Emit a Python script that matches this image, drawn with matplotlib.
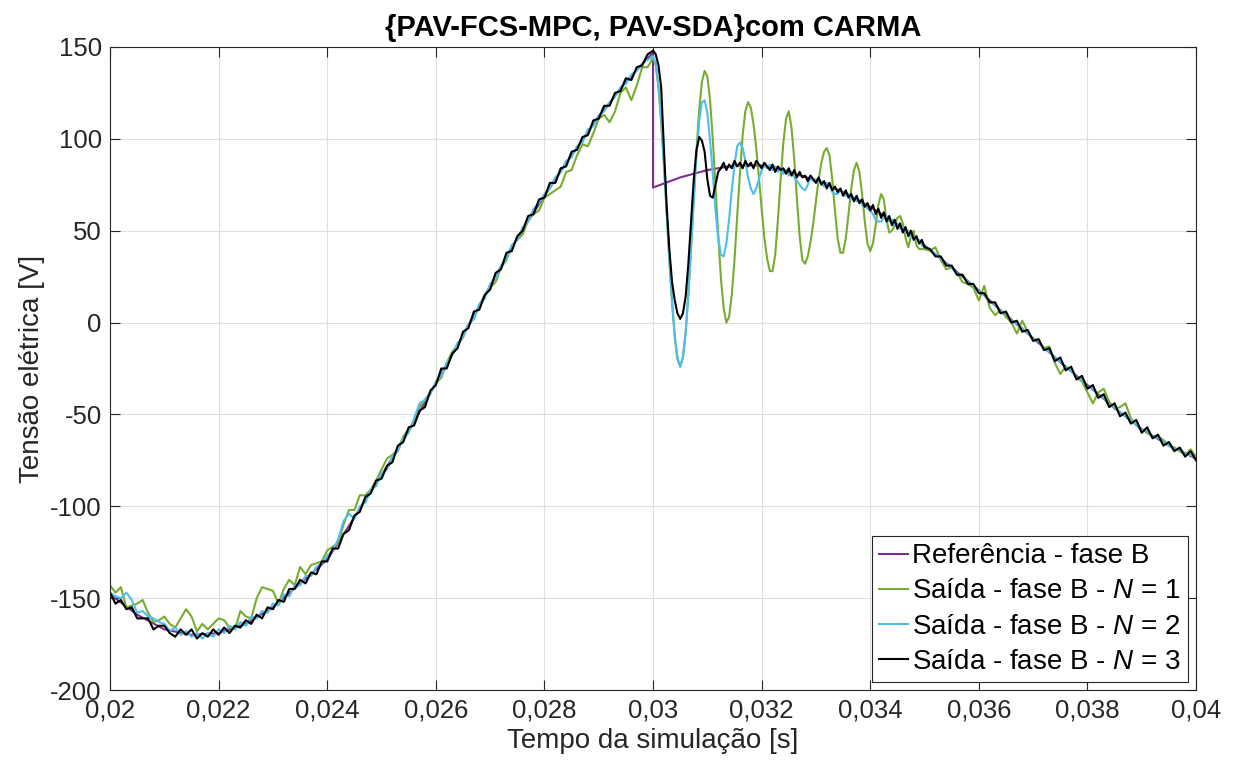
import numpy as np
import matplotlib.pyplot as plt
from matplotlib.ticker import FuncFormatter

plt.rcParams["font.family"] = ["Liberation Sans", "DejaVu Sans"]
plt.rcParams["mathtext.fontset"] = "custom"
plt.rcParams["mathtext.it"] = "Liberation Sans:italic"
plt.rcParams["mathtext.rm"] = "Liberation Sans"
plt.rcParams["axes.unicode_minus"] = False

# referencia (ms, V) - degrau em 30 ms
t_ref_ms = [20.0, 20.5, 21.0, 21.5, 22.0, 22.5, 23.0, 23.5, 24.0, 24.5,
            25.0, 25.5, 26.0, 26.5, 27.0, 27.5, 28.0, 28.5, 29.0, 29.5,
            30.0, 30.0, 30.5, 31.0, 31.5, 32.0, 32.5, 33.0, 33.5, 34.0,
            34.5, 35.0, 35.5, 36.0, 36.5, 37.0, 37.5, 38.0, 38.5, 39.0,
            39.5, 40.0]
v_ref = [-148, -159, -167, -170, -169, -164, -155, -142, -129, -106,
         -83, -59, -33, -7, 20, 46, 69, 91, 112, 131,
         147, 73.5, 79, 83, 85.5, 85.5, 82, 77.5, 71, 63,
         53.5, 42, 30, 17.5, 4, -8.5, -21.5, -34, -46.5, -58,
         -67, -74]

# saidas: 20-29,9 ms a cada 0,1 ms / 30-34,95 ms a cada 0,05 ms / 35-40 ms a cada 0,1 ms
t_out_ms = np.concatenate([np.linspace(20.0, 29.9, 100),
                           np.linspace(30.0, 34.95, 100),
                           np.linspace(35.0, 40.0, 51)])

v_n1 = [-143, -147, -144, -155, -154, -153, -151, -158, -163, -162,
        -160, -164, -166, -161, -156, -160, -168, -164, -167, -164,
        -161, -162, -166, -167, -157, -160, -161, -150, -144, -145,
        -146, -153, -145, -140, -143, -133, -137, -132, -131, -130,
        -124, -122, -120, -110, -102, -102, -94, -94, -91, -86,
        -80, -74, -72, -69, -62, -58, -55, -46, -42, -38,
        -33, -30, -22, -16, -12, -8, -1, 2, 9, 15,
        19, 22, 30, 34, 42, 45, 48, 56, 59, 61,
        68, 70, 72, 74, 82, 83, 91, 97, 96, 103,
        111, 113, 109, 115, 125, 128, 121, 129, 139, 139,
        # 30,00 - 34,95
        144, 140, 128, 109, 86, 60, 34, 11, -8, -20,
        -24, -19, -6, 15, 40, 68, 94, 116, 131, 137,
        134, 121, 100, 74, 48, 24, 8, 0, 3, 15,
        34, 58, 81, 102, 115, 120, 117, 108, 95, 79,
        62, 46, 35, 28, 28, 37, 56, 78, 98, 111,
        115, 106, 89, 67, 47, 34, 32, 36, 44, 54,
        66, 78, 87, 93, 95, 91, 78, 61, 46, 38,
        38, 46, 59, 73, 83, 87, 82, 70, 55, 43,
        39, 43, 53, 64, 70, 67, 56, 49, 50, 53,
        57, 58, 54, 46, 41, 47, 50, 42, 40, 40,
        # 35,0 - 40,0
        40, 39, 41, 34, 29, 30, 27, 22, 21, 19,
        12, 20, 8, 4, 7, 3, 0, -6, 1, -5,
        -9, -10, -14, -13, -22, -28, -24, -26, -30, -32,
        -38, -44, -38, -36, -43, -47, -46, -44, -52, -56,
        -58, -60, -62, -62, -64, -67, -68, -70, -72, -69,
        -73]

v_n2 = [-147, -149, -150, -147, -151, -158, -157, -160, -161, -163,
        -164, -168, -166, -170, -168, -171, -169, -172, -169, -171,
        -167, -169, -165, -167, -163, -165, -160, -161, -157, -158,
        -153, -154, -148, -149, -143, -143, -138, -138, -133, -131,
        -127, -124, -118, -108, -104, -107, -100, -98, -91, -89,
        -82, -80, -73, -70, -63, -60, -52, -44, -42, -39,
        -32, -29, -22, -18, -11, -8, -1, 2, 10, 13,
        21, 24, 31, 35, 42, 45, 52, 55, 62, 65,
        70, 73, 79, 82, 88, 90, 96, 98, 105, 107,
        113, 115, 120, 123, 128, 130, 135, 137, 141, 143,
        # 30,00 - 34,95
        145, 141, 129, 110, 87, 61, 35, 12, -7, -19,
        -24, -19, -5, 16, 41, 67, 91, 110, 120, 121,
        114, 99, 81, 61, 46, 37, 36, 43, 56, 72,
        86, 96, 98, 95, 88, 79, 73, 70, 73, 78,
        83, 86, 84, 86, 83, 85, 82, 84, 81, 83,
        80, 82, 79, 77, 75, 73, 72, 75, 79, 77,
        78, 76, 77, 74, 76, 75, 71, 70, 70, 72,
        71, 69, 70, 67, 68, 66, 67, 64, 65, 62,
        61, 59, 56, 55, 55, 57, 58, 55, 56, 53,
        54, 51, 52, 49, 50, 47, 47, 45, 45, 42,
        # 35,0 - 40,0
        41, 40, 37, 35, 32, 30, 26, 26, 22, 20,
        17, 15, 11, 10, 6, 5, 1, -1, -3, -6,
        -9, -10, -14, -16, -19, -21, -25, -26, -30, -31,
        -35, -36, -40, -41, -45, -46, -49, -51, -53, -56,
        -58, -59, -62, -63, -65, -67, -69, -69, -72, -72,
        -74]

v_n3 = [-147, -153, -151, -156, -155, -161, -161, -161, -167, -165,
        -165, -169, -171, -167, -170, -167, -172, -169, -171, -167,
        -170, -166, -169, -165, -166, -162, -164, -159, -161, -155,
        -156, -151, -152, -145, -145, -140, -142, -136, -137, -130,
        -130, -123, -123, -115, -113, -105, -103, -95, -93, -86,
        -85, -78, -76, -67, -65, -57, -56, -48, -46, -37,
        -34, -25, -25, -17, -14, -5, -3, 6, 7, 15,
        18, 27, 29, 38, 39, 47, 50, 58, 59, 67,
        68, 76, 76, 84, 85, 93, 94, 101, 102, 110,
        111, 118, 118, 125, 126, 133, 132, 139, 140, 146,
        # 30,00 - 34,95
        148, 146, 140, 128, 95, 64, 40, 22, 12, 5,
        2, 5, 14, 32, 55, 78, 94, 101, 99, 93,
        78, 69, 68, 75, 82, 84, 87, 83, 86, 84,
        88, 85, 87, 84, 88, 85, 87, 84, 88, 86,
        84, 87, 85, 83, 86, 82, 85, 83, 84, 81,
        84, 80, 83, 79, 82, 79, 80, 77, 80, 78,
        76, 79, 75, 77, 73, 76, 72, 74, 71, 73,
        69, 72, 68, 70, 66, 69, 65, 67, 63, 65,
        61, 64, 59, 62, 57, 60, 55, 58, 53, 56,
        51, 54, 49, 52, 47, 50, 45, 47, 43, 45,
        # 35,0 - 40,0
        41, 40, 36, 36, 31, 31, 26, 26, 21, 21,
        16, 16, 11, 11, 5, 6, 0, 1, -5, -4,
        -10, -9, -15, -14, -21, -19, -26, -24, -31, -29,
        -36, -34, -41, -39, -46, -44, -51, -49, -55, -53,
        -60, -57, -63, -61, -67, -65, -70, -68, -73, -70,
        -75]

legendas = ["Referência - fase B",
            "Saída - fase B - $\\mathit{N}$ = 1",
            "Saída - fase B - $\\mathit{N}$ = 2",
            "Saída - fase B - $\\mathit{N}$ = 3"]
cores = ["#7E2F8E", "#77AC30", "#4DBEEE", "#000000"]

t_ref = np.array(t_ref_ms) / 1000
t_out = t_out_ms / 1000

fig = plt.figure(figsize=(12.38, 7.74), dpi=100)
ax = fig.add_axes([0.0889, 0.1085, 0.8772, 0.8308])

ax.plot(t_ref, v_ref, color=cores[0], lw=1.5, label=legendas[0])
for v, c, lab in zip([v_n1, v_n2, v_n3], cores[1:], legendas[1:]):
    ax.plot(t_out, v, color=c, lw=1.5, label=lab)

ax.set_xlim(0.02, 0.04)
ax.set_ylim(-200, 150)
ax.set_xticks(np.arange(0.02, 0.04001, 0.002))
ax.set_yticks(np.arange(-200, 151, 50))
ax.xaxis.set_major_formatter(FuncFormatter(lambda x, p: f"{x:g}".replace(".", ",")))

ax.grid(True, color="#dedede", lw=0.8)
ax.set_axisbelow(True)
for s in ax.spines.values():
    s.set_color("#262626")
    s.set_linewidth(0.8)
ax.tick_params(direction="in", length=7, width=0.8, top=True, right=True,
               labelsize=18.5, colors="#262626", pad=6)

ax.set_title("{PAV-FCS-MPC, PAV-SDA}com CARMA", fontsize=21, fontweight="bold", pad=8)
ax.set_xlabel("Tempo da simulação [s]", fontsize=20, color="#262626")
ax.set_ylabel("Tensão elétrica [V]", fontsize=20, color="#262626")

leg = ax.legend(loc="lower right", fontsize=20, fancybox=False, framealpha=1,
                edgecolor="#262626", handlelength=1.05, handletextpad=0.15,
                borderpad=0.25, labelspacing=0.33, borderaxespad=0.3)
leg.get_frame().set_linewidth(0.8)

fig.savefig("out.png", dpi=100)
